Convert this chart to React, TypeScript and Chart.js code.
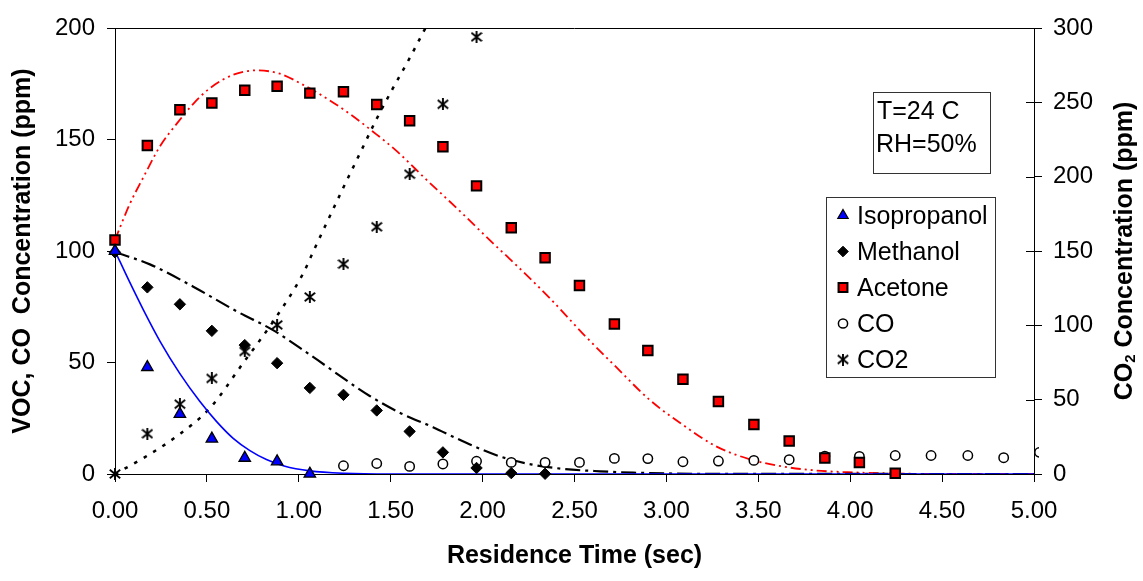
import React, { useEffect, useRef } from 'react';
import { Chart, registerables } from 'chart.js';
import { drawPoint } from 'chart.js/helpers';

Chart.register(...registerables);

const FONT = '"Liberation Sans", Arial, Helvetica, sans-serif';

const sampleTimes = [0, 0.176, 0.353, 0.527, 0.706, 0.882, 1.06, 1.243, 1.424, 1.603, 1.784, 1.967, 2.156, 2.34,
  2.527, 2.717, 2.899, 3.09, 3.283, 3.476, 3.668, 3.862, 4.05, 4.245, 4.44, 4.64, 4.835, 5.03];

const isopropanol = [100, 47.9, 26.9, 15.8, 7.2, 5.6, 0.1];
const methanol = [99.4, 83.7, 76.1, 64.2, 57.8, 49.7, 38.6, 35.5, 28.5, 19.1, 9.7, 2.7, 0.4, 0.1];
const acetone = [104.9, 147.3, 163.3, 166.4, 172.1, 173.9, 170.8, 171.4, 165.7, 158.4, 146.7, 129.2, 110.4, 97.0,
  84.5, 67.3, 55.4, 42.5, 32.5, 22.2, 14.8, 7.2, 5.2, 0.3];
const coStart = 7; // CO first measured at sampleTimes[7]
const co = [3.7, 4.7, 3.4, 4.5, 5.7, 5.2, 5.2, 5.2, 7.0, 6.9, 5.5, 5.8, 6.1, 6.4, 8.0, 7.9, 8.3, 8.3, 8.3, 7.3, 9.7];
const co2 = [0, 27.1, 47.0, 64.3, 82.4, 100.3, 119.1, 141.2, 166.3, 201.7, 248.7, 294.0];

// ---- fitted model curves ----
const isoFitT = [0, 0.08, 0.155, 0.245, 0.353, 0.462, 0.553, 0.643, 0.734, 0.824, 0.92, 1.06, 1.25, 1.5, 2.0, 5.0];
const isoFitV = [100, 86, 73.5, 59.5, 45, 32.5, 23.5, 16, 10.5, 6.5, 3.6, 1.4, 0.3, 0, 0, 0];

const methFitT = [0, 0.19, 0.426, 0.661, 0.86, 1.06, 1.386, 1.549, 1.73, 1.911, 2.09, 2.27, 2.45, 2.64, 2.82, 3.2, 5.0];
const methFitV = [99.5, 94, 84, 73, 64.5, 53.5, 35, 27.5, 21, 14, 8, 4.2, 2.2, 1.2, 0.6, 0.1, 0];

const aceFitT = [0, 0.08, 0.154, 0.245, 0.335, 0.426, 0.516, 0.643, 0.77, 0.897, 1.024, 1.15, 1.277, 1.404, 1.53,
  1.694, 1.875, 2.056, 2.147, 2.364, 2.545, 2.726, 2.908, 3.09, 3.27, 3.45, 3.63, 3.81, 3.96, 4.2, 4.5, 5.0];
const aceFitV = [105, 121, 133, 147, 157, 166, 173, 179, 181, 179.5, 174.5, 168.5, 161.5, 153.5, 145,
  132, 118, 103.5, 96.5, 79, 63, 48, 33.3, 22, 12.4, 6.7, 3.4, 1.6, 0.9, 0.3, 0, 0];

const co2FitT = [0, 0.154, 0.335, 0.516, 0.697, 0.879, 1.024, 1.078, 1.24, 1.33, 1.42, 1.51, 1.6, 1.694, 1.75];
const co2FitV = [0, 10.7, 25.3, 44.3, 74.6, 105.9, 135, 149.5, 192, 215, 238, 259, 279, 301, 313];

const xTicks = [0, 0.5, 1, 1.5, 2, 2.5, 3, 3.5, 4, 4.5, 5];

const pts = (ts: number[], vs: number[]) => vs.map((v, i) => ({ x: ts[i], y: v }));

function makeStar(): HTMLCanvasElement {
  const c = document.createElement('canvas');
  c.width = 12;
  c.height = 12;
  const g = c.getContext('2d')!;
  g.strokeStyle = '#000';
  g.lineWidth = 1.9;
  g.beginPath();
  g.moveTo(6, 0); g.lineTo(6, 12);
  g.moveTo(0.8, 1.8); g.lineTo(11.2, 10.2);
  g.moveTo(0.8, 10.2); g.lineTo(11.2, 1.8);
  g.stroke();
  return c;
}

export default function App() {
  const ref = useRef<HTMLCanvasElement>(null);

  useEffect(() => {
    if (!ref.current) return;
    const star = makeStar();

    const legendItems = [
      { label: 'Isopropanol', style: 'triangle', r: 6, fill: '#0000FF', stroke: '#000', bw: 1.2 },
      { label: 'Methanol', style: 'rectRot', r: 5.3, fill: '#000', stroke: '#000', bw: 1 },
      { label: 'Acetone', style: 'rect', r: 6.3, fill: '#FF0000', stroke: '#000', bw: 2 },
      { label: 'CO', style: 'circle', r: 4.6, fill: '#fff', stroke: '#000', bw: 1.5 },
      { label: 'CO2', style: star as any, r: 6, fill: '#000', stroke: '#000', bw: 1 },
    ];

    const decor = {
      id: 'decor',
      afterDraw(chart: any) {
        const { ctx, chartArea: a, scales } = chart;
        ctx.save();
        // top frame line
        ctx.strokeStyle = '#222';
        ctx.lineWidth = 1;
        ctx.beginPath();
        const ty = Math.round(a.top) + 0.5;
        ctx.moveTo(a.left, ty);
        ctx.lineTo(a.right, ty);
        // inward part of right-axis tick marks
        const y2 = scales.y2;
        y2.ticks.forEach((t: any) => {
          const py = Math.round(y2.getPixelForValue(t.value)) + 0.5;
          ctx.moveTo(a.right - 8, py);
          ctx.lineTo(a.right, py);
        });
        ctx.strokeStyle = '#000';
        ctx.stroke();

        // right axis title (reads bottom-to-top) with subscript 2
        const big = `bold 25px ${FONT}`;
        const small = `bold 15px ${FONT}`;
        ctx.font = big;
        const wCO = ctx.measureText('CO').width;
        const rest = ' Concentration (ppm)';
        const wRest = ctx.measureText(rest).width;
        ctx.font = small;
        const w2 = ctx.measureText('2').width;
        const total = wCO + w2 + wRest;
        ctx.save();
        ctx.translate(chart.width - 18, (a.top + a.bottom) / 2);
        ctx.rotate(-Math.PI / 2);
        ctx.fillStyle = '#000';
        ctx.textBaseline = 'middle';
        ctx.textAlign = 'left';
        let x = -total / 2;
        ctx.font = big;
        ctx.fillText('CO', x, 0);
        x += wCO;
        ctx.font = small;
        ctx.fillText('2', x, 6);
        x += w2;
        ctx.font = big;
        ctx.fillText(rest, x, 0);
        ctx.restore();

        // condition box
        ctx.strokeStyle = '#333';
        ctx.lineWidth = 1;
        ctx.strokeRect(873.5, 92.5, 117, 81);
        ctx.fillStyle = '#000';
        ctx.font = `25px ${FONT}`;
        ctx.textBaseline = 'alphabetic';
        ctx.textAlign = 'left';
        ctx.fillText('T=24 C', 877, 119);
        ctx.fillText('RH=50%', 876, 151.5);

        // legend box
        ctx.strokeRect(826.5, 197.5, 169, 180);
        legendItems.forEach((it, i) => {
          const base = 224 + i * 36;
          ctx.fillStyle = it.fill;
          ctx.strokeStyle = it.stroke;
          ctx.lineWidth = it.bw;
          drawPoint(ctx, { pointStyle: it.style, radius: it.r, rotation: 0, borderWidth: it.bw } as any, 843, base - 8.5);
          ctx.fillStyle = '#000';
          ctx.font = `25px ${FONT}`;
          ctx.fillText(it.label, 857, base);
        });
        ctx.restore();
      },
    };

    const scatterCommon = { showLine: false, order: 0, clip: false as any };
    const lineCommon = {
      showLine: true, pointRadius: 0, order: 1, fill: false,
      cubicInterpolationMode: 'monotone' as const, backgroundColor: 'transparent',
    };

    const chart = new Chart(ref.current, {
      type: 'scatter',
      data: {
        datasets: [
          {
            ...scatterCommon, label: 'Isopropanol', data: pts(sampleTimes, isopropanol),
            pointStyle: 'triangle', pointRadius: 6.6, backgroundColor: '#0000FF', borderColor: '#000', borderWidth: 1.3,
          },
          {
            ...scatterCommon, label: 'Methanol', data: pts(sampleTimes, methanol),
            pointStyle: 'rectRot', pointRadius: 5.7, backgroundColor: '#000', borderColor: '#000', borderWidth: 1,
          },
          {
            ...scatterCommon, label: 'Acetone', data: pts(sampleTimes, acetone),
            pointStyle: 'rect', pointRadius: 6.7, backgroundColor: '#FF0000', borderColor: '#000', borderWidth: 2,
          },
          {
            ...scatterCommon, label: 'CO', data: pts(sampleTimes.slice(coStart), co),
            clip: { left: 10, top: 10, right: 5, bottom: 10 } as any,
            pointStyle: 'circle', pointRadius: 4.7, backgroundColor: '#fff', borderColor: '#000', borderWidth: 1.5,
          },
          {
            ...scatterCommon, label: 'CO2', data: pts(sampleTimes, co2), yAxisID: 'y2',
            pointStyle: star as any, pointRadius: 6, backgroundColor: '#000', borderColor: '#000',
          },
          {
            ...lineCommon, label: 'Isopropanol fit', data: pts(isoFitT, isoFitV),
            borderColor: '#0000FF', borderWidth: 1.6,
          },
          {
            ...lineCommon, label: 'Methanol fit', data: pts(methFitT, methFitV),
            borderColor: '#000', borderWidth: 2.2, borderDash: [15, 5, 3, 5],
          },
          {
            ...lineCommon, label: 'Acetone fit', data: pts(aceFitT, aceFitV),
            borderColor: '#FF0000', borderWidth: 1.8, borderDash: [10, 4, 2, 4, 2, 4],
          },
          {
            ...lineCommon, label: 'CO2 fit', data: pts(co2FitT, co2FitV), yAxisID: 'y2',
            borderColor: '#000', borderWidth: 2.5, borderDash: [3.5, 7.5],
          },
        ] as any,
      },
      options: {
        responsive: false,
        animation: false,
        devicePixelRatio: 1,
        events: [],
        layout: { padding: { top: 28, left: 0, right: 0, bottom: 0 } },
        plugins: { legend: { display: false }, tooltip: { enabled: false } },
        scales: {
          x: {
            type: 'linear', min: 0, max: 5,
            afterFit: (s: any) => { s.height = 107; },
            afterBuildTicks: (s: any) => { s.ticks = xTicks.map((v) => ({ value: v })); },
            ticks: {
              padding: 15, color: '#000', font: { family: FONT, size: 24 },
              callback: (v: any) => Number(v).toFixed(2), maxRotation: 0, autoSkip: false,
            },
            grid: { drawOnChartArea: false, drawTicks: true, tickLength: 8, color: '#000', lineWidth: 1 },
            border: { display: true, color: '#000', width: 1 },
            title: {
              display: true, text: 'Residence Time (sec)', color: '#000',
              font: { family: FONT, size: 25, weight: 'bold' }, padding: { top: 0, bottom: 10 },
            },
          },
          y: {
            type: 'linear', position: 'left', min: 0, max: 200,
            afterFit: (s: any) => { s.width = 115; },
            ticks: { stepSize: 50, padding: 12, color: '#000', font: { family: FONT, size: 24 } },
            grid: { drawOnChartArea: false, drawTicks: true, tickLength: 8, color: '#000', lineWidth: 1 },
            border: { display: true, color: '#000', width: 1 },
            title: {
              display: true, text: 'VOC, CO  Concentration (ppm)', color: '#000',
              font: { family: FONT, size: 25, weight: 'bold' }, padding: { top: 8, bottom: 0 },
            },
          },
          y2: {
            type: 'linear', position: 'right', min: 0, max: 300,
            afterFit: (s: any) => { s.width = 109; },
            ticks: { stepSize: 50, padding: 11, color: '#000', font: { family: FONT, size: 24 } },
            grid: { drawOnChartArea: false, drawTicks: true, tickLength: 8, color: '#000', lineWidth: 1 },
            border: { display: true, color: '#000', width: 1 },
          },
        },
      } as any,
      plugins: [decor],
    });
    return () => chart.destroy();
  }, []);

  return (
    <div style={{ position: 'absolute', left: 0, top: 0, width: 1143, height: 581, background: '#fff' }}>
      <canvas ref={ref} width={1143} height={581} style={{ display: 'block' }} />
    </div>
  );
}
